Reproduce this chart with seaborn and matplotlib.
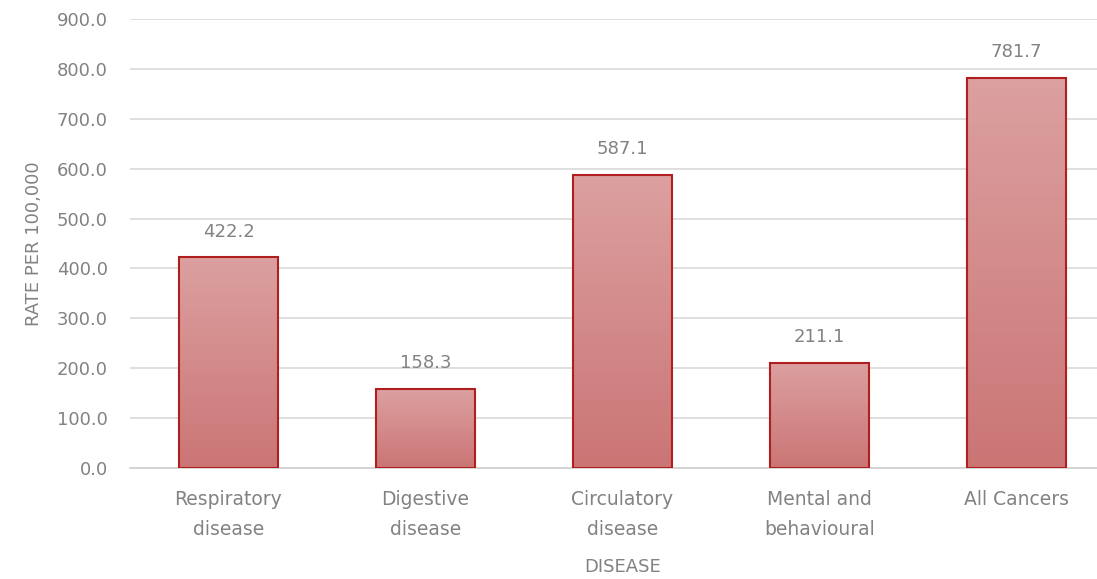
import numpy as np
import pandas as pd
import matplotlib
matplotlib.use("Agg")
import matplotlib.pyplot as plt
import seaborn as sns
from matplotlib.colors import LinearSegmentedColormap

categories = ["Respiratory\ndisease", "Digestive\ndisease", "Circulatory\ndisease",
              "Mental and\nbehavioural", "All Cancers"]
rates = [422.2, 158.3, 587.1, 211.1, 781.7]
y_ticks = [0, 100, 200, 300, 400, 500, 600, 700, 800, 900]

df = pd.DataFrame({"disease": categories, "rate": rates})

sns.set_theme(style="white")
plt.rcParams["font.family"] = ["DejaVu Sans"]
text_gray = "#828282"
fs = 13

fig = plt.figure(figsize=(10.97, 5.79), dpi=100)
ax = fig.add_axes([130 / 1097, 111 / 579, 985 / 1097, 449 / 579])

sns.barplot(data=df, x="disease", y="rate", ax=ax, width=0.5,
            color="#d48a8a", edgecolor="#b01e1e", linewidth=1.5, zorder=3)

# vertical gradient fill clipped to each bar
cmap = LinearSegmentedColormap.from_list("bar_grad", ["#cb7575", "#dca0a0"])
grad = np.linspace(0, 1, 256).reshape(-1, 1)
for patch in ax.patches:
    x0, y0 = patch.get_x(), patch.get_y()
    w, h = patch.get_width(), patch.get_height()
    im = ax.imshow(grad, cmap=cmap, origin="lower", aspect="auto",
                   extent=[x0, x0 + w, y0, y0 + h], zorder=3.5)
    im.set_clip_path(patch)
    patch.set_facecolor("none")
    patch.set_zorder(4)

for patch, v in zip(ax.patches, rates):
    ax.annotate(f"{v:.1f}", (patch.get_x() + patch.get_width() / 2, v),
                xytext=(0, 12), textcoords="offset points",
                ha="center", va="bottom", fontsize=fs, color=text_gray)

ax.set_xlim(-0.5, len(categories) - 0.5)
ax.set_ylim(0, 900)
ax.set_yticks(y_ticks)
ax.set_yticklabels([f"{t:.1f}" for t in y_ticks])
ax.yaxis.grid(True, color="#d9d9d9", linewidth=1.2, zorder=0)
ax.set_axisbelow(True)
for s in ["top", "right", "left"]:
    ax.spines[s].set_visible(False)
ax.spines["bottom"].set_color("#d0d0d0")
ax.spines["bottom"].set_linewidth(1.2)
ax.tick_params(axis="both", length=0, labelcolor=text_gray)
ax.tick_params(axis="y", pad=16, labelsize=fs)
ax.tick_params(axis="x", pad=16, labelsize=13.5)
for lbl in ax.get_xticklabels():
    lbl.set_linespacing(1.75)

ax.set_xlabel("DISEASE", fontsize=fs, color=text_gray, labelpad=13)
ax.set_ylabel("RATE PER 100,000", fontsize=fs, color=text_gray, labelpad=10)

fig.savefig("out.png", dpi=100)
